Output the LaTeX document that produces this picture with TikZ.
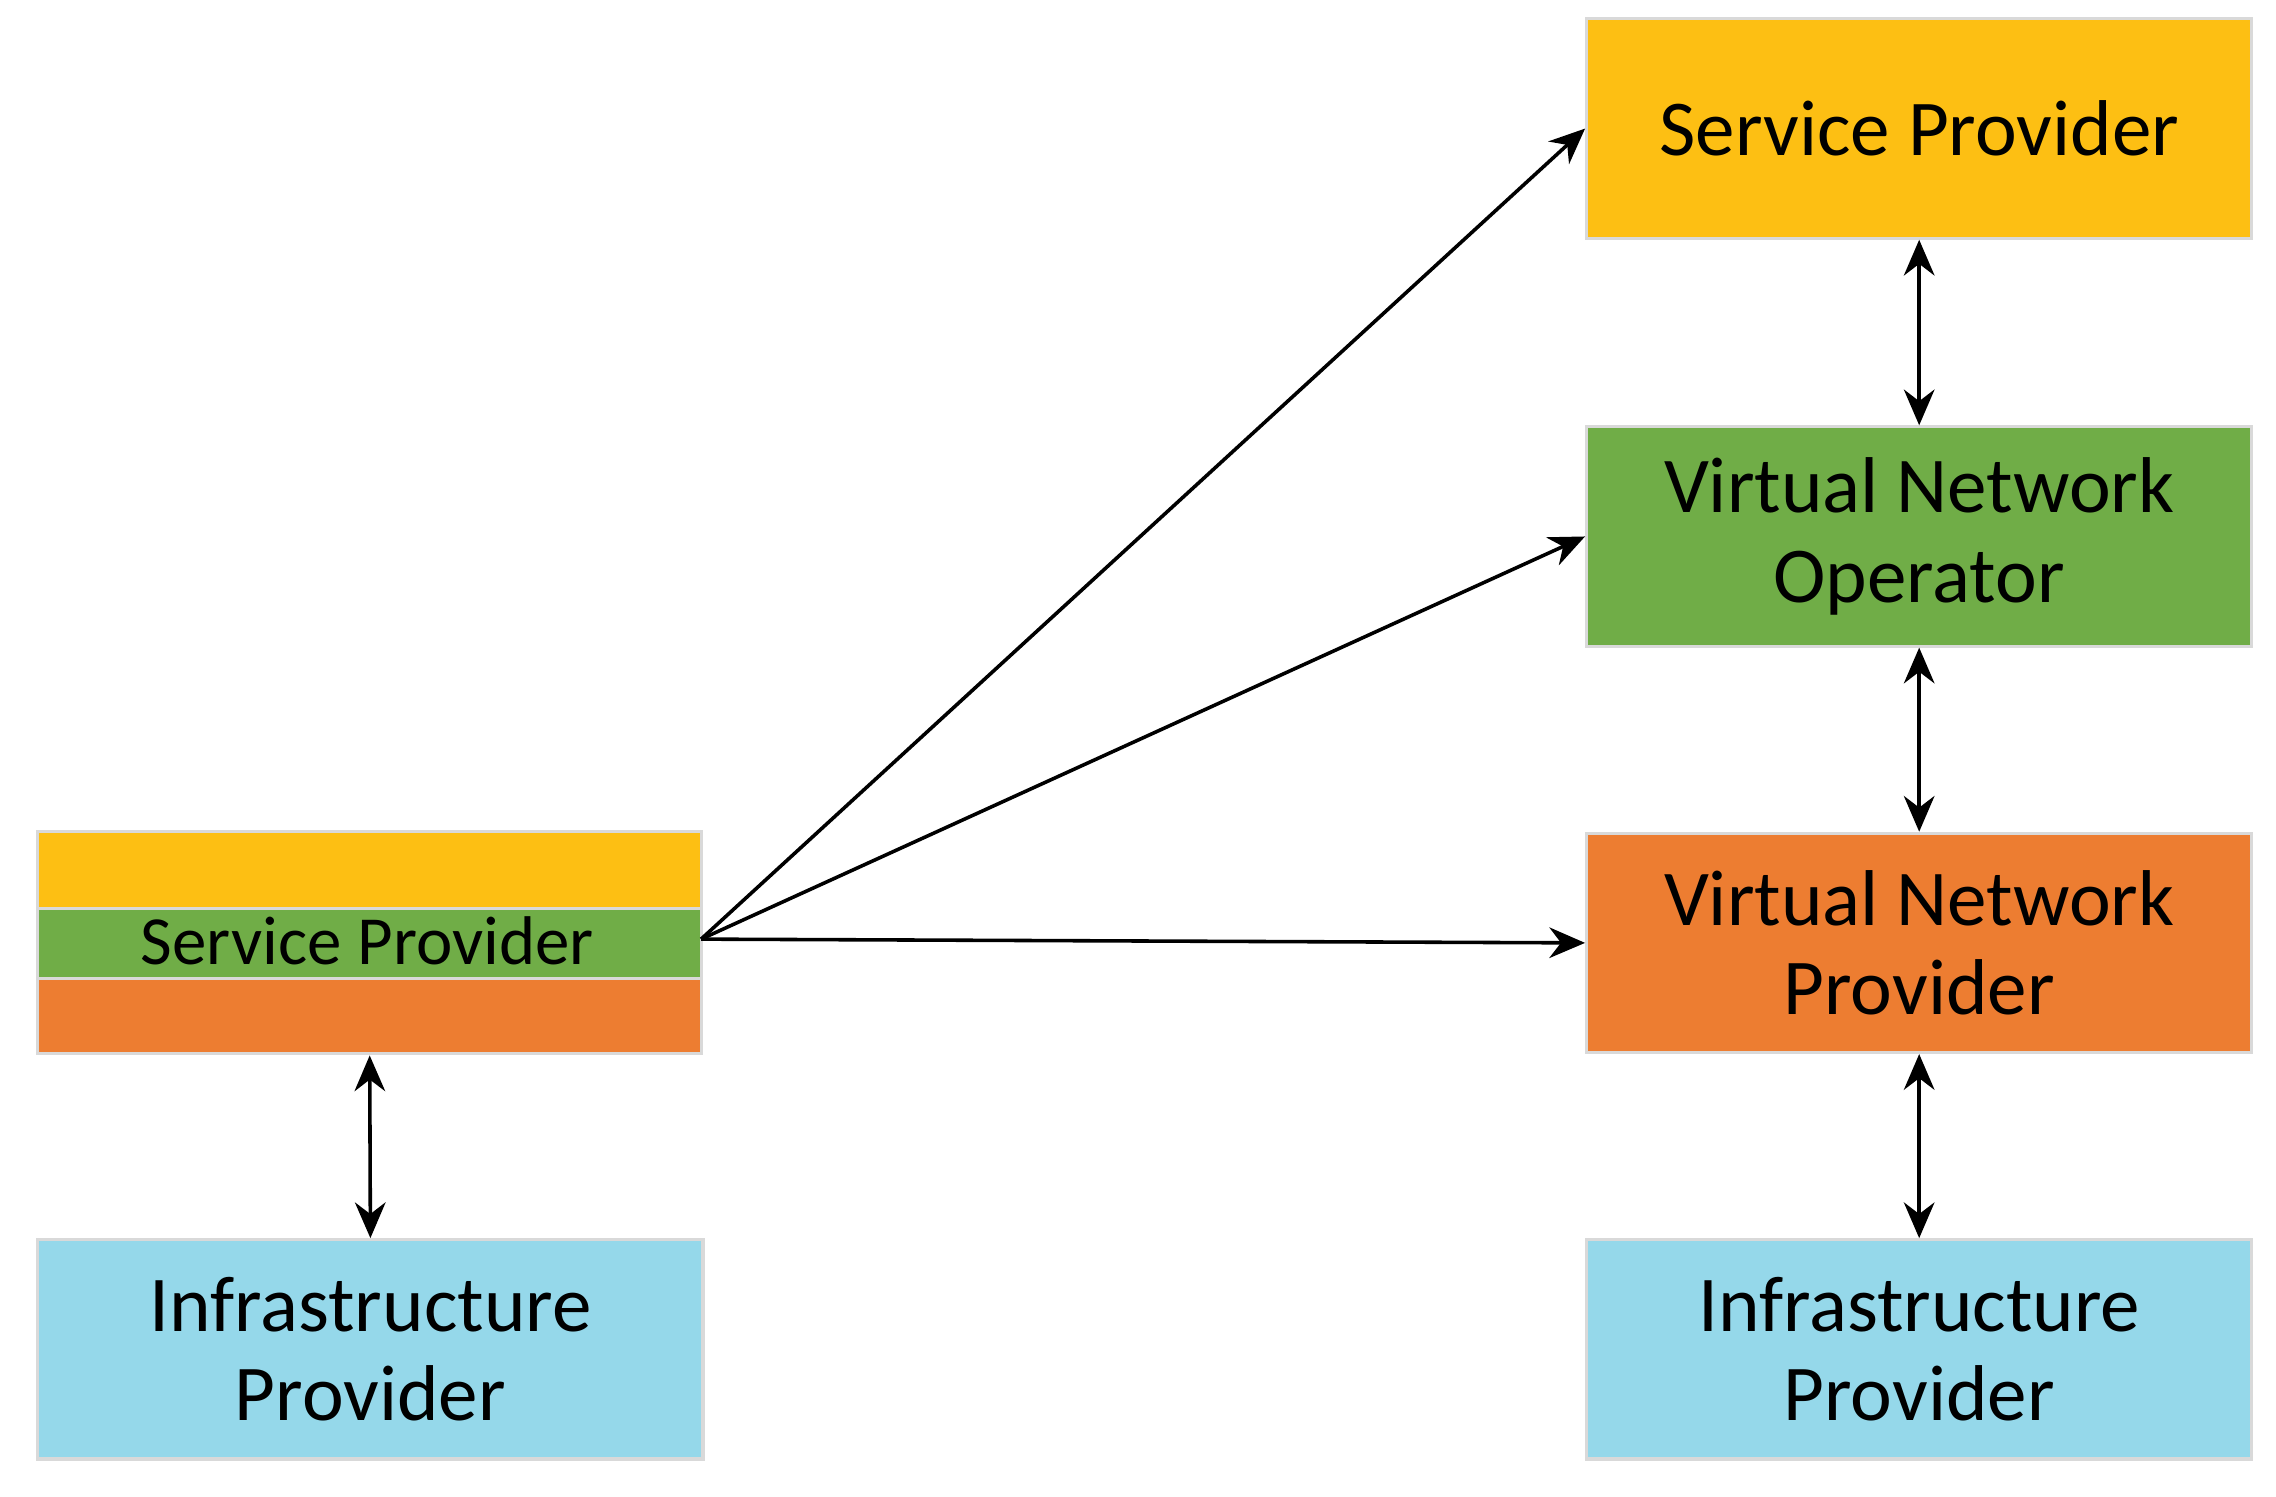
\documentclass[tikz,border=0pt]{standalone}
\usepackage{fontspec}
\setmainfont{Carlito}
\usetikzlibrary{arrows.meta}
\definecolor{cy}{HTML}{FDBF13}
\definecolor{cg}{HTML}{70AD47}
\definecolor{co}{HTML}{ED7D31}
\definecolor{cb}{HTML}{95D8EA}
\begin{document}
\begin{tikzpicture}[x=0.01cm,y=-0.01cm,
  box/.style={draw=white!85!black,line width=0.6pt,minimum width=4.58cm,minimum height=1.51cm,anchor=north west,align=center,inner sep=0pt,font=\fontsize{15.5}{17.5}\selectfont},
  band/.style={draw=white!85!black,line width=0.6pt,minimum width=4.57cm,anchor=north west,inner sep=0pt},
  arr/.style={-{Stealth[length=7pt,width=6pt]},line width=0.7pt},
  darr/.style={{Stealth[length=7pt,width=6pt]}-{Stealth[length=7pt,width=6pt]},line width=0.7pt}]
\useasboundingbox (0,0) rectangle (1568,1031);
\node[box,fill=cy] (sp) at (1092,12) {Service Provider};
\node[box,fill=cg] (vno) at (1092,293) {Virtual Network\\Operator};
\node[box,fill=co] (vnp) at (1092,573) {Virtual Network\\Provider};
\node[box,fill=cb] (ipr) at (1092,853) {Infrastructure\\Provider};
\node[box,fill=cb] (ipl) at (25,853) {Infrastructure\\Provider};
\node[band,fill=cy,minimum height=0.53cm] (ly) at (25,572) {};
\node[band,fill=cg,minimum height=0.48cm] (lg) at (25,625) {};
\node[band,fill=co,minimum height=0.52cm] (lo) at (25,673) {};
\node[font=\fontsize{13.5}{15}\selectfont] (lt) at (253,648) {Service Provider};
\coordinate (src) at (483,647);
\draw[arr] (src) -- (sp.west);
\draw[arr] (src) -- (vno.west);
\draw[arr] (src) -- (vnp.west);
\draw[darr] (sp.south) -- (vno.north);
\draw[darr] (vno.south) -- (vnp.north);
\draw[darr] (vnp.south) -- (ipr.north);
\draw[darr] (lo.south) -- (ipl.north);
\end{tikzpicture}
\end{document}
